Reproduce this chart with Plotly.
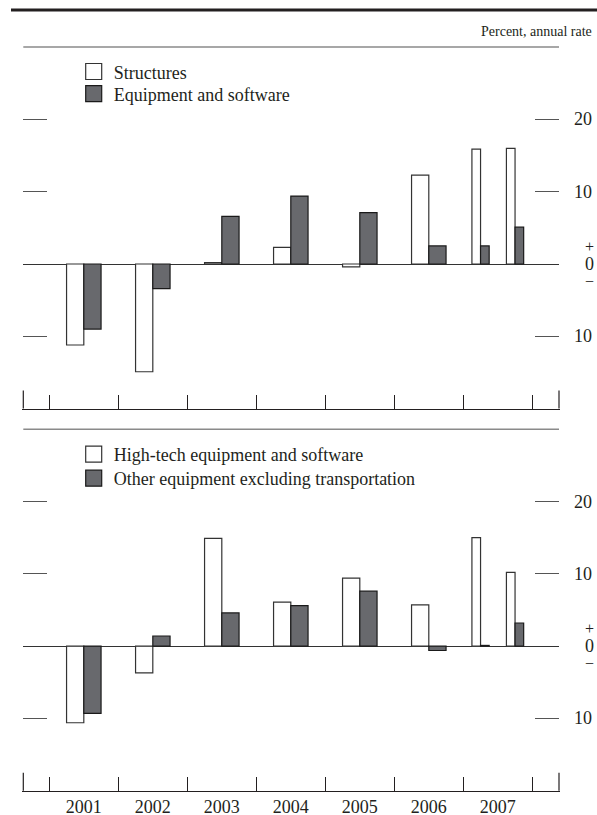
import plotly.graph_objects as go

# ---------------- data ----------------
periods = ["2001", "2002", "2003", "2004", "2005", "2006", "2007:H1", "2007:H2"]
structures = [-11.2, -14.9, 0.2, 2.3, -0.4, 12.3, 15.9, 16.0]
equipment_software = [-9.0, -3.4, 6.6, 9.4, 7.1, 2.5, 2.5, 5.1]
hightech = [-10.6, -3.7, 14.9, 6.1, 9.4, 5.7, 15.0, 10.2]
other_equipment = [-9.3, 1.4, 4.6, 5.6, 7.6, -0.6, 0.1, 3.2]

year_labels = ["2001", "2002", "2003", "2004", "2005", "2006", "2007"]
year_bounds = [2001, 2002, 2003, 2004, 2005, 2006, 2007, 2008]
y_tick_vals = [-10, 10, 20]
y_tick_text = ["10", "10", "20"]

# ---------------- helpers ----------------
W, H = 597, 815
FONT = "Liberation Serif"
INK = "#231f20"
DARK = "#68696d"


def period_span(p):
    if ":H" in p:
        yr, h = p.split(":H")
        return int(yr) + 0.5 * (int(h) - 1), 0.5
    return int(p), 1.0


spans = [period_span(p) for p in periods]
centers = [s + l / 2 for s, l in spans]
widths = [l / 4 for s, l in spans]
neg_offsets = [-w for w in widths]
zero_offsets = [0 for w in widths]
year_centers = [int(y) + 0.5 for y in year_labels]

px_x = lambda v: v / W
px_y = lambda v: 1 - v / H

xdom = [px_x(23.3), px_x(559)]
ydom_top = [px_y(408.6), px_y(47.1)]
ydom_bot = [px_y(790.7), px_y(429.3)]

fig = go.Figure()


def add_panel(vals_white, vals_dark, name_white, name_dark, xa, ya, lg_white, lg_dark):
    fig.add_trace(go.Bar(
        x=centers, y=vals_white, width=widths, offset=neg_offsets,
        marker=dict(color="white", line=dict(color="#333333", width=1.2)),
        xaxis=xa, yaxis=ya, showlegend=False, name=name_white))
    fig.add_trace(go.Bar(
        x=centers, y=vals_dark, width=widths, offset=zero_offsets,
        marker=dict(color=DARK, line=dict(color="#1a1a1a", width=1.2)),
        xaxis=xa, yaxis=ya, showlegend=False, name=name_dark))
    # legend entries (square swatches)
    fig.add_trace(go.Scatter(
        x=[None], y=[None], mode="markers", name=name_white, legend=lg_white,
        marker=dict(symbol="square", size=16, color="white",
                    line=dict(color="#333333", width=1.2)),
        xaxis=xa, yaxis=ya))
    fig.add_trace(go.Scatter(
        x=[None], y=[None], mode="markers", name=name_dark, legend=lg_dark,
        marker=dict(symbol="square", size=16, color=DARK,
                    line=dict(color="#1a1a1a", width=1.2)),
        xaxis=xa, yaxis=ya))


add_panel(structures, equipment_software, "Structures", "Equipment and software",
          "x", "y", "legend", "legend2")
add_panel(hightech, other_equipment, "High-tech equipment and software",
          "Other equipment excluding transportation", "x2", "y2", "legend3", "legend4")

xrange = [2000.623, 2008.387]
yrange = [-20, 30]
common_x = dict(
    range=xrange, domain=xdom, showgrid=False, zeroline=False,
    showline=True, linecolor=INK, linewidth=1.2,
    tickmode="array", tickvals=year_centers, ticktext=year_labels, ticks="",
    minor=dict(tickmode="array", tickvals=year_bounds, ticks="inside",
               ticklen=14, tickwidth=1.2, tickcolor=INK, showgrid=False),
    tickfont=dict(family=FONT, size=18, color=INK),
    automargin=False, fixedrange=True,
)
# y axes draw the short inside tick marks on both sides
common_y = dict(
    range=yrange, showgrid=False, zeroline=True, zerolinecolor="#333333",
    zerolinewidth=1, side="right", showline=True, linecolor="rgba(0,0,0,0)",
    mirror="ticks", tickmode="array", tickvals=y_tick_vals,
    ticks="inside", ticklen=24, tickwidth=1.3, tickcolor="#555555",
    showticklabels=False, automargin=False, fixedrange=True,
)


def lg(top_px):
    return dict(x=px_x(73.7), y=px_y(top_px), xanchor="left", yanchor="top",
                bgcolor="rgba(0,0,0,0)", borderwidth=0,
                font=dict(family=FONT, size=18, color=INK))


fig.update_layout(
    width=W, height=H, autosize=False,
    margin=dict(l=0, r=0, t=0, b=0, autoexpand=False),
    paper_bgcolor="white", plot_bgcolor="white",
    barmode="overlay",
    font=dict(family=FONT, size=18, color=INK),
    xaxis=dict(common_x, anchor="y", showticklabels=False),
    xaxis2=dict(common_x, anchor="y2", showticklabels=True, matches="x"),
    yaxis=dict(common_y, domain=ydom_top, anchor="x"),
    yaxis2=dict(common_y, domain=ydom_bot, anchor="x2"),
    legend=lg(53.3), legend2=lg(75.5), legend3=lg(436), legend4=lg(460),
)

shapes = [
    dict(type="line", xref="paper", yref="paper", x0=px_x(11), x1=1,
         y0=px_y(10), y1=px_y(10), line=dict(color=INK, width=3)),
]
for xa, ya in (("x", "y"), ("x2", "y2")):
    shapes.append(dict(type="line", xref=f"{xa} domain", yref=f"{ya} domain",
                       x0=0, x1=1, y0=1, y1=1,
                       line=dict(color="#8a8a8a", width=1.5)))
    for xd in (0, 1):
        shapes.append(dict(type="line", xref=f"{xa} domain", yref=f"{ya} domain",
                           x0=xd, x1=xd, y0=0, y1=18 / 361.5,
                           line=dict(color=INK, width=1.2)))
fig.update_layout(shapes=shapes)

annotations = [
    dict(text="Percent, annual rate", xref="paper", yref="paper",
         x=px_x(594), y=px_y(31.7), xanchor="right", yanchor="middle",
         showarrow=False, font=dict(family=FONT, size=14, color=INK)),
]
for ya in ("y", "y2"):
    # right-hand value labels, right aligned, placed through the y scale
    for v, t in zip(y_tick_vals, y_tick_text):
        annotations.append(dict(
            text=t, xref="paper", yref=ya, x=px_x(594), y=v,
            xanchor="right", yanchor="middle", showarrow=False,
            font=dict(family=FONT, size=18, color=INK)))
    annotations += [
        dict(text="0", xref="paper", yref=ya, x=px_x(589.5), y=0,
             xanchor="center", yanchor="middle", showarrow=False,
             font=dict(family=FONT, size=18, color=INK)),
        dict(text="+", xref="paper", yref=ya, x=px_x(589.5), y=0, yshift=18,
             xanchor="center", yanchor="middle", showarrow=False,
             font=dict(family=FONT, size=16, color=INK)),
        dict(text="\u2212", xref="paper", yref=ya, x=px_x(589.5), y=0, yshift=-17,
             xanchor="center", yanchor="middle", showarrow=False,
             font=dict(family=FONT, size=16, color=INK)),
    ]
fig.update_layout(annotations=annotations)

fig.write_html(
    "out.html",
    config={"displayModeBar": False},
    post_script="document.body.style.margin='0';document.body.style.overflow='hidden';",
)
